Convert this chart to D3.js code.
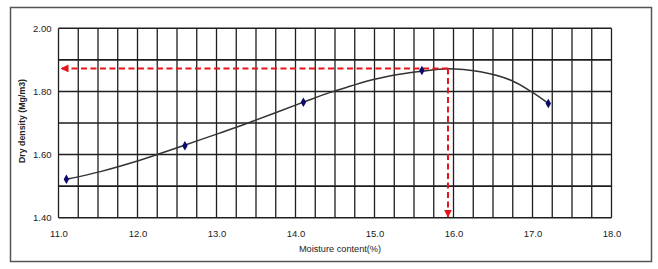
<!DOCTYPE html>
<html>
<head>
<meta charset="utf-8">
<script src="https://d3js.org/d3.v7.min.js"></script>
<style>
  body { margin: 0; background: #fff; }
  svg text { font-family: "Liberation Sans", "DejaVu Sans", sans-serif; fill: #222; }
</style>
</head>
<body>
<div id="chart"></div>
<script>
// measured points (moisture %, dry density Mg/m3)
const moisture = [11.1, 12.6, 14.1, 15.6, 17.2];
const density = [1.522, 1.628, 1.766, 1.866, 1.762];

// trend curve
const fitMoisture = [11.1, 11.53, 12.03, 12.25, 12.54, 13.04, 13.40, 14.1, 14.44, 14.70, 14.96, 15.19, 15.44, 15.6, 15.92, 16.34, 16.72, 16.98, 17.2];
const fitDensity = [1.522, 1.546, 1.582, 1.600, 1.625, 1.668, 1.700, 1.766, 1.797, 1.817, 1.836, 1.849, 1.859, 1.864, 1.872, 1.862, 1.836, 1.800, 1.762];

// optimum moisture / max dry density
const omc = [15.93];
const mdd = [1.873];

const xTicks = [11, 12, 13, 14, 15, 16, 17, 18];
const yTicks = [1.4, 1.6, 1.8, 2.0];
const xGrid = d3.range(11, 18.001, 0.25);
const yGrid = d3.range(1.4, 2.001, 0.1);

const W = 658, H = 269;
const margin = {top: 28.3, right: 46.5, bottom: 51.3, left: 58.5};
const width = W - margin.left - margin.right;
const height = H - margin.top - margin.bottom;

const svg = d3.select("#chart").append("svg")
    .attr("width", W)
    .attr("height", H);

// outer frame
svg.append("rect")
    .attr("x", 10.5).attr("y", 7.5)
    .attr("width", 641).attr("height", 254)
    .attr("fill", "#fff")
    .attr("stroke", "#555")
    .attr("stroke-width", 1.5);

const defs = svg.append("defs");
defs.append("marker")
    .attr("id", "arrow")
    .attr("viewBox", "0 0 10 10")
    .attr("refX", 10).attr("refY", 5)
    .attr("markerWidth", 4).attr("markerHeight", 4)
    .attr("markerUnits", "strokeWidth")
    .attr("orient", "auto")
    .append("path")
    .attr("d", "M0,0L10,5L0,10Z")
    .attr("fill", "#e8141a");

const g = svg.append("g")
    .attr("transform", `translate(${margin.left},${margin.top})`);

const x = d3.scaleLinear().domain([11, 18]).range([0, width]);
const y = d3.scaleLinear().domain([1.4, 2.0]).range([height, 0]);

// grid
g.append("g")
    .selectAll("line")
    .data(xGrid)
    .join("line")
    .attr("x1", d => x(d)).attr("x2", d => x(d))
    .attr("y1", 0).attr("y2", height)
    .attr("stroke", "#1e1e1e")
    .attr("stroke-width", 1.3);

g.append("g")
    .selectAll("line")
    .data(yGrid)
    .join("line")
    .attr("x1", 0).attr("x2", width)
    .attr("y1", d => y(d)).attr("y2", d => y(d))
    .attr("stroke", "#1e1e1e")
    .attr("stroke-width", 1.6);

// tick labels
const xAxis = g.append("g")
    .attr("transform", `translate(0,${height})`)
    .call(d3.axisBottom(x).tickValues(xTicks).tickSize(0).tickPadding(13).tickFormat(d3.format(".1f")));
xAxis.select(".domain").remove();
xAxis.selectAll("text").style("font-size", "9.5px").attr("fill", "#222");

const yAxis = g.append("g")
    .call(d3.axisLeft(y).tickValues(yTicks).tickSize(0).tickPadding(7).tickFormat(d3.format(".2f")));
yAxis.select(".domain").remove();
yAxis.selectAll("text").style("font-size", "9.5px").attr("fill", "#222");

// axis titles
g.append("text")
    .attr("x", width / 2 + 5)
    .attr("y", height + 34)
    .attr("text-anchor", "middle")
    .style("font-size", "9.2px")
    .text("Moisture content(%)");

g.append("text")
    .attr("transform", `translate(${25 - margin.left},${height / 2 - 2}) rotate(-90)`)
    .attr("text-anchor", "middle")
    .style("font-size", "8.8px")
    .style("font-weight", "bold")
    .text("Dry density (Mg/m3)");

// trend curve
const fit = fitMoisture.map((m, i) => ({m, d: fitDensity[i]}));
g.append("path")
    .datum(fit)
    .attr("fill", "none")
    .attr("stroke", "#333")
    .attr("stroke-width", 1.5)
    .attr("d", d3.line().x(p => x(p.m)).y(p => y(p.d)).curve(d3.curveCatmullRom.alpha(0.5)));

// red guide lines
g.append("line")
    .attr("x1", x(omc[0])).attr("x2", x(11) + 2)
    .attr("y1", y(mdd[0])).attr("y2", y(mdd[0]))
    .attr("stroke", "#e8141a")
    .attr("stroke-width", 2)
    .attr("stroke-dasharray", "6,3.5")
    .attr("marker-end", "url(#arrow)");

g.append("line")
    .attr("x1", x(omc[0])).attr("x2", x(omc[0]))
    .attr("y1", y(mdd[0])).attr("y2", y(1.4))
    .attr("stroke", "#e8141a")
    .attr("stroke-width", 2)
    .attr("stroke-dasharray", "6,3.5")
    .attr("marker-end", "url(#arrow)");

// points
const pts = moisture.map((m, i) => ({m, d: density[i]}));
g.append("g")
    .selectAll("path")
    .data(pts)
    .join("path")
    .attr("transform", p => `translate(${x(p.m)},${y(p.d)})`)
    .attr("d", d3.symbol(d3.symbolDiamond, 26))
    .attr("fill", "#0a0a6e");
</script>
</body>
</html>
